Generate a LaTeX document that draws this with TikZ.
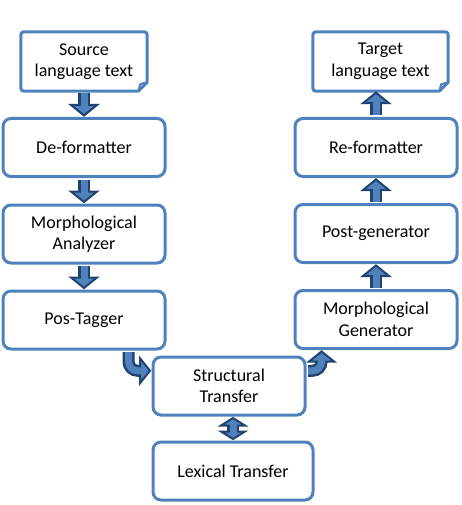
\documentclass[tikz,border=0pt]{standalone}
\usepackage{fontspec}
\setmainfont{Carlito}
\usetikzlibrary{calc}
\definecolor{boxblue}{HTML}{4F81BD}
\definecolor{arrdark}{HTML}{21436F}
\definecolor{arrlight}{HTML}{4F81BD}
% arrow head: #1 tip coordinate, #2 angle, #3 length, #4 half width
\newcommand{\blockhead}[4]{%
  \draw[fill=arrlight, draw=arrdark, line width=2pt, line join=miter, shift={(#1)}, rotate=#2]
    (0pt,0pt) -- (-#3pt,#4pt) -- (-#3pt,-#4pt) -- cycle;}
% straight downward arrow from node #1 to node #2
\newcommand{\arrdown}[2]{%
  \coordinate (as) at ($(#1.south)+(0,1.5)$);
  \coordinate (at) at ($(#2.north -| #1.center)+(0,-1.5)$);
  \coordinate (ab) at ($(at)+(0,-10.5)$);
  \draw[shaftout] (as) -- (ab);
  \blockhead{at}{-90}{10.5}{13}
  \draw[shaftin] (as) -- ($(ab)+(0,1.5)$);}
% straight upward arrow from node #1 to node #2
\newcommand{\arrup}[2]{%
  \coordinate (as) at ($(#1.north)+(0,-1.5)$);
  \coordinate (at) at ($(#2.south -| #1.center)+(0,1.5)$);
  \coordinate (ab) at ($(at)+(0,10.5)$);
  \draw[shaftout] (as) -- (ab);
  \blockhead{at}{90}{10.5}{13}
  \draw[shaftin] (as) -- ($(ab)+(0,-1.5)$);}
\begin{document}
\begin{tikzpicture}[x=1pt,y=-1pt,
  box/.style={draw=boxblue, line width=3pt, rounded corners=8pt, fill=white,
    align=center, font=\fontsize{18}{21.5}\selectfont, inner sep=0pt,
    minimum width=162pt, minimum height=58pt},
  doc/.style={align=center, font=\fontsize{18}{21.5}\selectfont, inner sep=0pt,
    minimum height=59pt},
  docline/.style={draw=boxblue, line width=3pt, fill=white, line join=round},
  shaftout/.style={line width=12pt, draw=arrdark, line cap=butt},
  shaftin/.style={line width=7pt, draw=arrlight, line cap=butt}
]
\useasboundingbox (0,0) rectangle (461,505);

% document-shaped boxes
\node[doc, minimum width=126pt] (src) at (84,61.5) {};
\draw[docline] (src.north west) [rounded corners=3pt] -- (src.north east)
  [sharp corners] -- ($(src.south east)+(0,-9)$) -- ($(src.south east)+(-9,0)$)
  [rounded corners=3pt] -- (src.south west) -- cycle;
\draw[draw=boxblue, line width=2pt, line join=round] ($(src.south east)+(0,-9)$) -- ($(src.south east)+(-7,-7)$) -- ($(src.south east)+(-9,0)$);
\node[doc] at (src) {Source\\language text};

\node[doc, minimum width=135pt] (tgt) at (380.5,61.5) {};
\draw[docline] (tgt.north west) [rounded corners=3pt] -- (tgt.north east)
  [sharp corners] -- ($(tgt.south east)+(0,-9)$) -- ($(tgt.south east)+(-9,0)$)
  [rounded corners=3pt] -- (tgt.south west) -- cycle;
\draw[draw=boxblue, line width=2pt, line join=round] ($(tgt.south east)+(0,-9)$) -- ($(tgt.south east)+(-7,-7)$) -- ($(tgt.south east)+(-9,0)$);
\node[doc] at (tgt) {Target\\language text};

% left column
\node[box] (def) at (84,147.5) {De-formatter};
\node[box] (mana) at (84,234) {Morphological\\Analyzer};
\node[box] (pos) at (84,320) {Pos-Tagger};

% right column
\node[box] (ref) at (376,147.5) {Re-formatter};
\node[box] (post) at (376,233.5) {Post-generator};
\node[box] (mgen) at (376,319.5) {Morphological\\Generator};

% bottom
\node[box, minimum width=152pt] (str) at (229,386) {Structural\\Transfer};
\node[box, minimum width=160pt] (lex) at (233,471) {Lexical Transfer};

% straight arrows
\arrdown{src}{def}
\arrdown{def}{mana}
\arrdown{mana}{pos}
\arrup{mgen}{post}
\arrup{post}{ref}
\arrup{ref}{tgt}

% double arrow between Structural and Lexical Transfer
\coordinate (dt1) at ($(str.south -| lex.north)+(0,1.5)$);
\coordinate (dt2) at ($(lex.north)+(0,-1.5)$);
\draw[shaftout] ($(dt1)+(0,7.5)$) -- ($(dt2)+(0,-7.5)$);
\blockhead{dt1}{90}{7.5}{12}
\blockhead{dt2}{-90}{7.5}{12}
\draw[shaftin] ($(dt1)+(0,6)$) -- ($(dt2)+(0,-6)$);

% curved arrow Pos-Tagger -> Structural Transfer
\coordinate (p1) at ($($(pos.south west)!0.77!(pos.south east)$)+(0,1.5)$);
\coordinate (s1t) at ($($(str.north west)!0.25!(str.south west)$)+(-1.5,0)$);
\coordinate (s1b) at ($(s1t)+(-10,0)$);
\draw[shaftout, rounded corners=9pt] (p1) |- (s1b);
\blockhead{s1t}{0}{10}{12.5}
\draw[shaftin, rounded corners=9pt] (p1) |- ($(s1b)+(1.5,0)$);

% curved arrow Structural Transfer -> Morphological Generator
\coordinate (s2) at ($($(str.north east)!0.25!(str.south east)$)+(1.5,0)$);
\coordinate (m1t) at ($($(mgen.south west)!0.17!(mgen.south east)$)+(0,1.5)$);
\coordinate (m1b) at ($(m1t)+(0,10)$);
\draw[shaftout, rounded corners=9pt] (s2) -| (m1b);
\blockhead{m1t}{90}{10}{12.5}
\draw[shaftin, rounded corners=9pt] (s2) -| ($(m1b)+(0,-1.5)$);
\end{tikzpicture}
\end{document}
